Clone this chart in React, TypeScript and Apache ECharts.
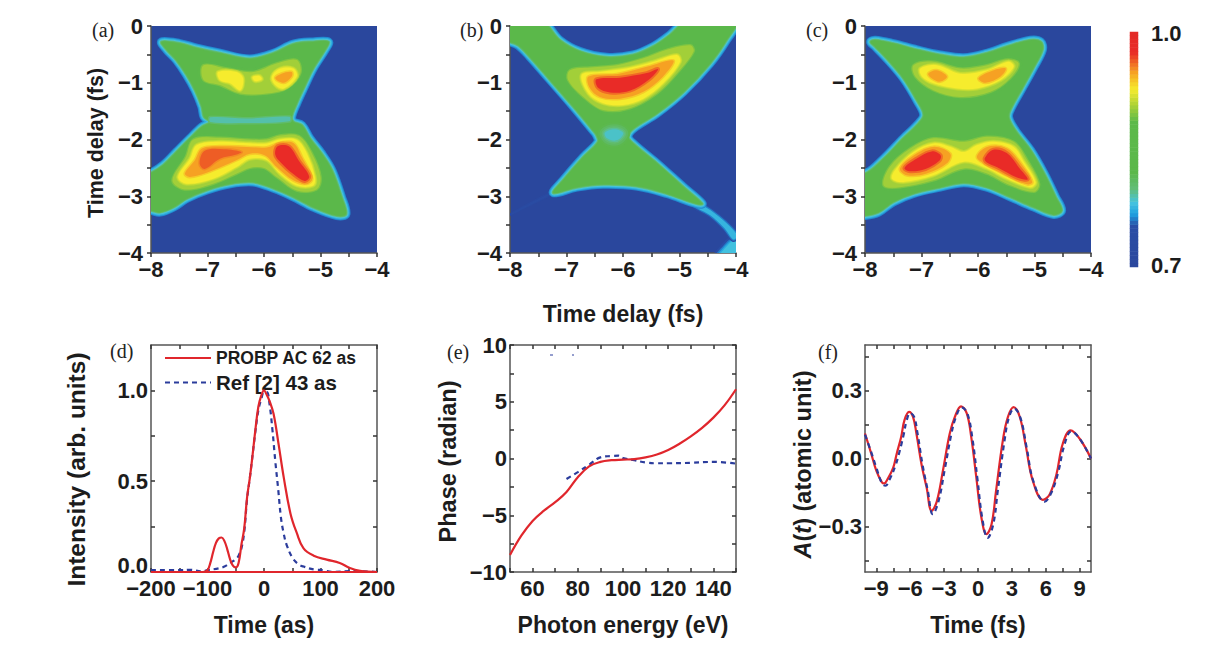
import React, { useEffect, useRef } from "react";
import * as echarts from "echarts";

type P = [number, number];

// ---------- colour scale 0.7..1.0 ----------
const rampPositions = [0, 0.17, 0.22, 0.27, 0.33, 0.4, 0.62, 0.7, 0.76, 0.83, 0.92, 1];
const rampColors = ["#2a479d", "#2a4ea6", "#1f9fe0", "#45c3df", "#62bd78", "#5bb84a", "#5cb94a", "#b5d534", "#f6ec2d", "#f6a623", "#e92b27", "#e32a26"];
const colorbarLevels = [
  0.7, 0.705, 0.71, 0.715, 0.72, 0.725, 0.73, 0.735, 0.74, 0.745, 0.75, 0.755, 0.76, 0.765, 0.77, 0.775, 0.78, 0.785, 0.79, 0.795,
  0.8, 0.805, 0.81, 0.815, 0.82, 0.825, 0.83, 0.835, 0.84, 0.845, 0.85, 0.855, 0.86, 0.865, 0.87, 0.875, 0.88, 0.885, 0.89, 0.895,
  0.9, 0.905, 0.91, 0.915, 0.92, 0.925, 0.93, 0.935, 0.94, 0.945, 0.95, 0.955, 0.96, 0.965, 0.97, 0.975, 0.98, 0.985, 0.99, 0.995, 1.0,
];

// ---------- contour levels of the three maps (value -> fill, soft edge strokes, widest first) ----------
const edgeBand = { fill: 0.825, strokes: [[9, 0.762], [7, 0.772], [5, 0.782], [3, 0.797], [1.5, 0.812]] };
const waistBand = { fill: 0.79, strokes: [[3, 0.805]] };
const softWaistBand = { fill: 0.785, strokes: [[14, 0.818], [10, 0.81], [6, 0.802], [3, 0.794]] };
const tailBand = { fill: 0.775, strokes: [[5, 0.74], [2.5, 0.76]] };
const faintTailBand = { fill: 0.735, strokes: [[2, 0.725]] };
const blobBand = { fill: 0.78, strokes: [[10, 0.745], [6, 0.76], [3, 0.77]] };
const glowBand = { fill: 0.905, strokes: [[7, 0.87], [5, 0.882], [2.5, 0.895]] };
const yellowBand = { fill: 0.928, strokes: [[4, 0.912], [2, 0.92]] };
const orangeBand = { fill: 0.95, strokes: [[3, 0.938]] };
const mixedRedBand = { fill: 0.965, strokes: [[3, 0.955]] };
const redBand = { fill: 0.976, strokes: [[7, 0.95], [4, 0.962]] };

// ---------- panel (a) contours, in fs ----------
const aEdge: P[] = [[-7.81,-0.28],[-7.49,-0.31],[-7.19,-0.39],[-6.78,-0.48],[-6.25,-0.58],[-5.83,-0.48],[-5.48,-0.32],[-5.13,-0.28],[-4.86,-0.28],[-4.92,-0.42],[-5.13,-0.75],[-5.3,-1.1],[-5.42,-1.36],[-5.51,-1.6],[-5.48,-1.69],[-5.33,-1.75],[-5.19,-1.98],[-4.98,-2.25],[-4.8,-2.54],[-4.63,-3.01],[-4.55,-3.31],[-4.71,-3.34],[-5.13,-3.19],[-5.48,-3.01],[-5.83,-2.86],[-6.19,-2.75],[-6.6,-2.78],[-7.01,-2.89],[-7.37,-3.04],[-7.6,-3.19],[-7.84,-3.28],[-8,-3.25],[-8.2,-3.25],[-8.2,-2.65],[-8,-2.59],[-7.78,-2.45],[-7.55,-2.22],[-7.31,-1.98],[-7.1,-1.78],[-6.95,-1.69],[-7.06,-1.6],[-7.1,-1.42],[-7.22,-1.13],[-7.37,-0.86],[-7.55,-0.6],[-7.72,-0.42]];
const aWaist: P[] = [[-6.95,-1.61],[-6.3,-1.63],[-5.55,-1.6],[-5.55,-1.68],[-6.3,-1.71],[-6.95,-1.69]];
const aUpperGlow: P[] = [[-7.07,-0.69],[-6.66,-0.75],[-6.19,-0.81],[-5.78,-0.66],[-5.42,-0.6],[-5.36,-0.84],[-5.6,-1.1],[-5.95,-1.19],[-6.42,-1.19],[-6.78,-1.04],[-7.07,-0.95]];
const aUpperYellowL: P[] = [[-6.81,-0.81],[-6.49,-0.81],[-6.37,-0.92],[-6.42,-1.13],[-6.6,-1.01],[-6.78,-0.95]];
const aUpperYellowM: P[] = [[-6.2,-0.9],[-6.08,-0.88],[-6.04,-0.94],[-6.16,-0.97]];
const aUpperYellowR: P[] = [[-5.86,-0.89],[-5.71,-0.75],[-5.48,-0.75],[-5.42,-0.89],[-5.65,-1.1],[-5.8,-1.04]];
const aUpperOrange: P[] = [[-5.8,-0.92],[-5.69,-0.84],[-5.51,-0.81],[-5.51,-0.89],[-5.65,-1.0]];
const aLowerGlow: P[] = [[-7.25,-2.0],[-6.78,-1.97],[-6.3,-2.0],[-5.95,-2.0],[-5.72,-1.93],[-5.38,-1.94],[-5.15,-2.25],[-5.0,-2.66],[-5.07,-2.88],[-5.42,-2.9],[-5.75,-2.68],[-6.0,-2.5],[-6.25,-2.5],[-6.48,-2.6],[-6.9,-2.78],[-7.4,-2.88],[-7.62,-2.72],[-7.38,-2.3]];
const aLowerYellow: P[] = [[-7.19,-2.1],[-6.78,-2.04],[-6.37,-2.06],[-5.95,-2.07],[-5.72,-2.0],[-5.42,-2.01],[-5.24,-2.25],[-5.1,-2.66],[-5.13,-2.81],[-5.42,-2.81],[-5.72,-2.6],[-5.95,-2.36],[-6.25,-2.34],[-6.48,-2.48],[-6.9,-2.69],[-7.37,-2.78],[-7.52,-2.66],[-7.31,-2.34]];
const aLowerOrange: P[] = [[-7.1,-2.16],[-6.78,-2.12],[-6.31,-2.13],[-5.95,-2.14],[-5.72,-2.06],[-5.48,-2.06],[-5.33,-2.31],[-5.15,-2.69],[-5.24,-2.78],[-5.48,-2.72],[-5.78,-2.48],[-5.98,-2.28],[-6.25,-2.25],[-6.48,-2.36],[-6.9,-2.54],[-7.31,-2.66],[-7.4,-2.6],[-7.22,-2.36]];
const aLowerRedL: P[] = [[-7.05,-2.2],[-6.71,-2.17],[-6.4,-2.22],[-6.5,-2.27],[-6.78,-2.34],[-7.05,-2.52],[-7.14,-2.42]];
const aLowerRedR: P[] = [[-5.76,-2.12],[-5.56,-2.12],[-5.38,-2.38],[-5.2,-2.65],[-5.28,-2.73],[-5.48,-2.61],[-5.7,-2.41],[-5.8,-2.27]];

// ---------- panel (b) contours ----------
const bEdge: P[] = [[-8.2,0.2],[-7.45,0.1],[-7.12,-0.25],[-6.76,-0.45],[-6.29,-0.55],[-5.82,-0.51],[-5.46,-0.36],[-5.17,-0.16],[-4.85,0.1],[-3.98,0.12],[-4.17,-0.25],[-4.46,-0.66],[-4.93,-1.16],[-5.4,-1.54],[-5.82,-1.81],[-5.91,-1.95],[-5.82,-2.07],[-5.4,-2.42],[-4.93,-2.84],[-4.6,-3.13],[-4.7,-3.13],[-5.23,-2.95],[-5.76,-2.82],[-6.35,-2.79],[-6.82,-2.84],[-7.23,-2.94],[-7.06,-2.72],[-6.7,-2.31],[-6.44,-2.04],[-6.47,-1.92],[-6.53,-1.84],[-6.88,-1.42],[-7.29,-0.95],[-7.65,-0.54],[-7.85,-0.34],[-8,-0.28],[-8.2,-0.25]];
const bWaist: P[] = [[-6.32,-1.88],[-6.15,-1.82],[-6.0,-1.88],[-6.05,-1.98],[-6.15,-2.02],[-6.28,-1.98]];
const bUpperGlow: P[] = [[-6.94,-0.78],[-6.58,-0.73],[-6.11,-0.69],[-5.64,-0.57],[-5.23,-0.42],[-4.81,-0.34],[-4.75,-0.45],[-5.05,-0.84],[-5.4,-1.19],[-5.88,-1.45],[-6.35,-1.48],[-6.7,-1.25],[-6.97,-0.95]];
const bUpperYellow: P[] = [[-6.73,-0.86],[-6.41,-0.81],[-5.94,-0.75],[-5.46,-0.63],[-5.05,-0.51],[-4.99,-0.63],[-5.29,-1.01],[-5.64,-1.28],[-6,-1.39],[-6.35,-1.36],[-6.61,-1.19]];
const bUpperOrange: P[] = [[-6.61,-0.89],[-6.11,-0.85],[-5.58,-0.72],[-5.11,-0.61],[-5.29,-0.89],[-5.64,-1.16],[-6.05,-1.28],[-6.41,-1.25],[-6.59,-1.09]];
const bUpperRed: P[] = [[-6.47,-0.94],[-6.05,-0.91],[-5.58,-0.83],[-5.38,-0.76],[-5.55,-0.95],[-5.88,-1.14],[-6.23,-1.17],[-6.44,-1.09]];
const bTail: P[] = [[-4.62,-3.15],[-4.3,-3.36],[-4.08,-3.56],[-3.98,-3.7],[-4.05,-3.76],[-4.2,-3.57],[-4.45,-3.34],[-4.72,-3.18]];
const bLeftTail: P[] = [[-7.25,-2.93],[-7.6,-3.1],[-8.1,-3.38],[-7.6,-3.13],[-7.25,-2.96]];
const bCornerBlob: P[] = [[-3.9,-3.72],[-4.05,-3.78],[-4.18,-3.9],[-4.32,-4.1],[-3.9,-4.1]];

// ---------- panel (c) contours ----------
const cEdge: P[] = [[-7.82,-0.25],[-7.5,-0.31],[-7.08,-0.42],[-6.67,-0.51],[-6.25,-0.56],[-5.84,-0.48],[-5.48,-0.36],[-5.07,-0.25],[-4.89,-0.28],[-4.86,-0.42],[-5.01,-0.72],[-5.22,-1.1],[-5.4,-1.42],[-5.46,-1.6],[-5.34,-1.84],[-5.07,-2.19],[-4.83,-2.6],[-4.63,-3.01],[-4.52,-3.25],[-4.66,-3.32],[-5.01,-3.19],[-5.43,-3.01],[-5.84,-2.84],[-6.25,-2.76],[-6.67,-2.84],[-7.14,-2.95],[-7.5,-3.1],[-7.76,-3.28],[-8,-3.34],[-8.2,-3.34],[-8.2,-2.5],[-8,-2.6],[-7.67,-2.34],[-7.32,-1.98],[-7.08,-1.75],[-6.96,-1.57],[-7.08,-1.31],[-7.32,-0.92],[-7.59,-0.6],[-7.82,-0.36],[-7.9,-0.28]];
const cUpperGlow: P[] = [[-7.14,-0.69],[-6.79,-0.63],[-6.31,-0.75],[-5.84,-0.69],[-5.48,-0.59],[-5.28,-0.66],[-5.43,-0.92],[-5.78,-1.16],[-6.31,-1.25],[-6.79,-1.13],[-7.11,-0.89]];
const cUpperYellow: P[] = [[-7.02,-0.75],[-6.73,-0.69],[-6.31,-0.84],[-5.84,-0.78],[-5.46,-0.63],[-5.37,-0.72],[-5.6,-0.95],[-6.02,-1.1],[-6.37,-1.1],[-6.79,-1.01],[-6.99,-0.89]];
const cUpperOrangeL: P[] = [[-6.88,-0.84],[-6.73,-0.78],[-6.55,-0.89],[-6.67,-0.98],[-6.82,-0.92]];
const cUpperOrangeR: P[] = [[-5.99,-0.92],[-5.72,-0.78],[-5.51,-0.75],[-5.6,-0.89],[-5.87,-1]];
const cLowerGlow: P[] = [[-7.56,-2.48],[-7.2,-2.16],[-6.79,-1.98],[-6.25,-2.04],[-5.84,-1.95],[-5.37,-2.04],[-5.13,-2.36],[-4.92,-2.78],[-5.01,-2.92],[-5.49,-2.78],[-5.84,-2.6],[-6.25,-2.51],[-6.79,-2.72],[-7.38,-2.84],[-7.67,-2.81]];
const cLowerYellow: P[] = [[-7.47,-2.54],[-7.14,-2.22],[-6.79,-2.07],[-6.49,-2.13],[-6.25,-2.22],[-6.02,-2.1],[-5.72,-2.04],[-5.37,-2.13],[-5.19,-2.39],[-4.98,-2.75],[-5.07,-2.84],[-5.49,-2.69],[-5.84,-2.51],[-6.25,-2.39],[-6.79,-2.63],[-7.32,-2.75],[-7.52,-2.69]];
const cLowerOrangeL: P[] = [[-7.38,-2.51],[-7.14,-2.28],[-6.79,-2.13],[-6.49,-2.25],[-6.55,-2.42],[-6.91,-2.6],[-7.26,-2.63]];
const cLowerRedL: P[] = [[-7.3,-2.5],[-7.09,-2.34],[-6.82,-2.21],[-6.66,-2.28],[-6.69,-2.38],[-6.93,-2.52],[-7.2,-2.56]];
const cLowerOrangeR: P[] = [[-6.02,-2.31],[-5.84,-2.13],[-5.49,-2.16],[-5.22,-2.45],[-5.04,-2.75],[-5.13,-2.79],[-5.49,-2.63],[-5.84,-2.45]];
const cLowerRedR: P[] = [[-5.88,-2.33],[-5.73,-2.18],[-5.49,-2.24],[-5.27,-2.5],[-5.12,-2.7],[-5.31,-2.67],[-5.66,-2.49],[-5.85,-2.4]];

const panelAContours = [
  [aEdge, edgeBand], [aWaist, waistBand], [aUpperGlow, glowBand], [aUpperYellowL, yellowBand], [aUpperYellowM, yellowBand], [aUpperYellowR, yellowBand], [aUpperOrange, orangeBand],
  [aLowerGlow, glowBand], [aLowerYellow, yellowBand], [aLowerOrange, orangeBand], [aLowerRedL, mixedRedBand], [aLowerRedR, redBand],
] as any[];
const panelBContours = [
  [bLeftTail, faintTailBand], [bCornerBlob, blobBand], [bTail, tailBand], [bEdge, edgeBand], [bWaist, softWaistBand], [bUpperGlow, glowBand], [bUpperYellow, yellowBand], [bUpperOrange, orangeBand], [bUpperRed, redBand],
] as any[];
const panelCContours = [
  [cEdge, edgeBand], [cUpperGlow, glowBand], [cUpperYellow, yellowBand], [cUpperOrangeL, orangeBand], [cUpperOrangeR, orangeBand],
  [cLowerGlow, glowBand], [cLowerYellow, yellowBand], [cLowerOrangeL, orangeBand], [cLowerRedL, redBand], [cLowerOrangeR, orangeBand], [cLowerRedR, redBand],
] as any[];

// ---------- panel (d) ----------
const dRed: P[] = [[-200,0],[-150,0],[-108,0],[-100,0.01],[-95,0.05],[-90,0.11],[-85,0.16],[-80,0.185],[-75,0.19],[-70,0.17],[-65,0.125],[-60,0.07],[-55,0.035],[-50,0.025],[-45,0.05],[-40,0.15],[-35,0.24],[-30,0.41],[-25,0.52],[-20,0.65],[-15,0.79],[-10,0.91],[-5,0.97],[0,1.0],[5,0.975],[10,0.94],[17,0.87],[26,0.7],[35,0.52],[47,0.32],[58,0.215],[70,0.13],[88,0.09],[111,0.068],[134,0.05],[152,0.022],[170,0.007],[200,0]];
const dBaseline: P[] = [[-200,0],[200,0]];
const dBlue: P[] = [[-200,0.01],[-150,0.01],[-130,0.012],[-110,0.003],[-100,0.01],[-80,0.02],[-70,0.03],[-60,0.05],[-50,0.07],[-45,0.09],[-40,0.13],[-35,0.22],[-30,0.4],[-25,0.52],[-20,0.65],[-15,0.78],[-10,0.89],[-5,0.95],[0,0.99],[5,0.99],[10,0.92],[15,0.78],[20,0.61],[25,0.46],[30,0.3],[35,0.21],[40,0.15],[50,0.08],[60,0.045],[70,0.03],[90,0.013],[105,0.01],[120,0.001],[160,0.005],[200,0]];
// ---------- panel (e) ----------
const eRed: P[] = [[50,-8.5],[55,-6.8],[60,-5.5],[65,-4.6],[70,-3.85],[75,-2.95],[80,-1.65],[85,-0.7],[90,-0.3],[95,-0.15],[100,-0.1],[105,-0.05],[110,0.1],[115,0.35],[120,0.75],[125,1.3],[130,1.95],[135,2.7],[140,3.6],[145,4.7],[150,6.1]];
const eBlue: P[] = [[75,-1.8],[80,-1.2],[85,-0.55],[90,0.1],[95,0.22],[98,0.25],[100,0.05],[105,-0.15],[110,-0.35],[115,-0.42],[120,-0.42],[130,-0.38],[140,-0.3],[150,-0.45]];
// ---------- panel (f) ----------
const fRed: P[] = [[-10,0.11],[-9.5,0.03],[-9,-0.053],[-8.5,-0.105],[-8.3,-0.11],[-8,-0.09],[-7.5,-0.04],[-7.2,0.02],[-6.8,0.095],[-6.5,0.17],[-6.1,0.205],[-5.75,0.183],[-5.45,0.11],[-5,-0.025],[-4.55,-0.127],[-4.1,-0.23],[-3.65,-0.19],[-3.1,-0.053],[-2.5,0.11],[-2.05,0.183],[-1.5,0.23],[-1,0.2],[-0.6,0.095],[-0.15,-0.083],[0.3,-0.26],[0.75,-0.333],[1.2,-0.29],[1.6,-0.142],[2.2,0.08],[2.65,0.183],[3.15,0.226],[3.7,0.183],[4.25,0.05],[4.85,-0.098],[5.75,-0.182],[6.35,-0.157],[6.95,-0.068],[7.5,0.065],[8.2,0.124],[9,0.087],[10,0]];
const fBlue: P[] = [[-10,0.105],[-9.5,0.035],[-9,-0.04],[-8.5,-0.11],[-8.2,-0.12],[-7.8,-0.09],[-7.3,-0.03],[-7,0.02],[-6.6,0.1],[-6.3,0.17],[-6,0.2],[-5.65,0.183],[-5.35,0.11],[-4.9,-0.03],[-4.45,-0.14],[-4,-0.245],[-3.5,-0.19],[-2.95,-0.05],[-2.35,0.11],[-1.95,0.183],[-1.45,0.225],[-0.95,0.2],[-0.5,0.09],[-0.05,-0.09],[0.4,-0.27],[0.85,-0.35],[1.35,-0.29],[1.75,-0.142],[2.35,0.08],[2.75,0.183],[3.2,0.22],[3.75,0.18],[4.3,0.05],[4.9,-0.1],[5.9,-0.19],[6.5,-0.15],[7.1,-0.06],[7.65,0.06],[8.25,0.12],[9,0.087],[10,0]];

// ---------- ticks ----------
const heatLabels = [-8, -7, -6, -5, -4];
const heatTicks = [-8, -7.5, -7, -6.5, -6, -5.5, -5, -4.5, -4];
const delayLabels = [-4, -3, -2, -1, 0];
const delayTicks = [-4, -3.5, -3, -2.5, -2, -1.5, -1, -0.5, 0];
const dXLabels = [-200, -100, 0, 100, 200];
const dXTicks = [-200, -150, -100, -50, 0, 50, 100, 150, 200];
const dYLabels = [0, 0.5, 1];
const dYTicks = [0, 0.25, 0.5, 0.75, 1];
const eXLabels = [60, 80, 100, 120, 140];
const eXTicks = [50, 60, 70, 80, 90, 100, 110, 120, 130, 140, 150];
const eYLabels = [-10, -5, 0, 5, 10];
const eYTicks = [-10, -7.5, -5, -2.5, 0, 2.5, 5, 7.5, 10];
const fXLabels = [-9, -6, -3, 0, 3, 6, 9];
const fXTicks = [-9, -7.5, -6, -4.5, -3, -1.5, 0, 1.5, 3, 4.5, 6, 7.5, 9];
const fYLabels = [-0.3, 0, 0.3];
const fYTicks = [-0.45, -0.3, -0.15, 0, 0.15, 0.3, 0.45];

const SANS = "'Liberation Sans', Arial, sans-serif";
const INK = "#1c1c1c";
const FRAME = "#555555";
const RED = "#e0262c";
const BLUE = "#2b3c9c";
const RED_NAME = "PROBP AC 62 as";
const BLUE_NAME = "Ref [2] 43 as";
const TICK_SIZE = 22;

function hexToRgb(h: string) {
  return [parseInt(h.slice(1, 3), 16), parseInt(h.slice(3, 5), 16), parseInt(h.slice(5, 7), 16)];
}
function colorOf(v: number) {
  const f = Math.max(0, Math.min(1, (v - 0.7) / 0.3));
  let i = 0;
  while (i < rampPositions.length - 2 && f > rampPositions[i + 1]) i++;
  const t = (f - rampPositions[i]) / (rampPositions[i + 1] - rampPositions[i]);
  const a = hexToRgb(rampColors[i]);
  const b = hexToRgb(rampColors[i + 1]);
  return `rgb(${a.map((c, k) => Math.round(c + (b[k] - c) * t)).join(",")})`;
}
const minus = (s: string | number) => String(s).replace("-", "\u2212");

function valueAxis(pos: string, min: number, max: number, labels: number[], ticks: number[], inside: boolean, margin: number, extra: any = {}) {
  return {
    type: "value",
    position: pos,
    min,
    max,
    scale: true,
    splitLine: { show: false },
    axisLine: { show: true, onZero: false, lineStyle: { color: FRAME, width: 1.5 } },
    axisTick: { show: true, inside, length: 4, customValues: ticks, lineStyle: { color: "#333", width: 1.5 } },
    axisLabel: {
      show: true,
      customValues: labels,
      fontFamily: SANS,
      fontWeight: "bold",
      fontSize: TICK_SIZE,
      color: INK,
      margin,
      showMinLabel: true,
      showMaxLabel: true,
      formatter: (v: number) => minus(v),
    },
    ...extra,
  };
}
function mirrorAxis(pos: string, min: number, max: number, ticks: number[]) {
  return {
    type: "value",
    position: pos,
    min,
    max,
    scale: true,
    splitLine: { show: false },
    axisLine: { show: true, onZero: false, lineStyle: { color: FRAME, width: 1.5 } },
    axisTick: { show: true, inside: true, length: 4, customValues: ticks, lineStyle: { color: "#333", width: 1.5 } },
    axisLabel: { show: false },
  };
}
const axisName = (name: string, fontSize: number, nameGap: number, rotate = false, shift = 0, rich?: any) => ({
  name,
  nameLocation: "middle",
  nameGap,
  nameRotate: rotate ? 90 : 0,
  nameTextStyle: { fontFamily: SANS, fontWeight: "bold", fontSize, color: INK, rich, padding: shift ? [0, shift, 0, 0] : 0 },
});

function contourSeries(contours: any[], axisIndex: number) {
  return {
    type: "custom",
    coordinateSystem: "cartesian2d",
    xAxisIndex: axisIndex,
    yAxisIndex: axisIndex,
    clip: true,
    silent: true,
    data: contours.map((_, i) => [-6, -2, i]),
    encode: { x: 0, y: 1 },
    renderItem: (_p: any, api: any) => {
      const [pts, band] = contours[api.value(2)];
      const points = pts.map((p: P) => api.coord(p));
      const children = band.strokes.map(([w, v]: number[]) => ({
        type: "polygon",
        shape: { points, smooth: 0.35 },
        style: { fill: "none", stroke: colorOf(v), lineWidth: w, lineJoin: "round" },
      }));
      children.push({
        type: "polygon",
        shape: { points, smooth: 0.35 },
        style: { fill: colorOf(band.fill), stroke: "none" },
      });
      return { type: "group", children };
    },
  };
}

const lineSeries = (name: string, data: P[], color: string, dashed: boolean, axis: number, z: number) => ({
  type: "line",
  name,
  data,
  xAxisIndex: axis,
  yAxisIndex: axis,
  symbol: "none",
  showSymbol: false,
  smooth: 0.4,
  clip: true,
  z,
  lineStyle: { color, width: 2.2, type: dashed ? [5, 4] : "solid" },
  itemStyle: { color },
});

const panelLetter = (text: string, x: number, y: number) => ({
  type: "text",
  x,
  y,
  style: { text, font: "20px 'Liberation Serif', 'Times New Roman', serif", fill: "#222", textVerticalAlign: "middle" },
});

function buildOption() {
  const T = 26, H = 227, W = 226, L2T = 345;
  const lefts = [151, 510, 865];
  const grids = [
    ...lefts.map((left) => ({ left, top: T, width: W, height: H, show: true, backgroundColor: "#2a479d", borderWidth: 0 })),
    ...lefts.map((left) => ({ left, top: L2T, width: W, height: H })),
    { left: 1130, top: 32, width: 8, height: 235 },
  ];
  const xAxis: any[] = [
    valueAxis("bottom", -8, -4, heatLabels, heatTicks, false, 5, { gridIndex: 0 }),
    valueAxis("bottom", -8, -4, heatLabels, heatTicks, false, 5, { gridIndex: 1, ...axisName("Time delay (fs)", 23, 49) }),
    valueAxis("bottom", -8, -4, heatLabels, heatTicks, false, 5, { gridIndex: 2 }),
    valueAxis("bottom", -200, 200, dXLabels, dXTicks, true, 5, { gridIndex: 3, ...axisName("Time (as)", 23, 41) }),
    valueAxis("bottom", 50, 150, eXLabels, eXTicks, true, 5, { gridIndex: 4, ...axisName("Photon energy (eV)", 23, 41) }),
    valueAxis("bottom", -10, 10, fXLabels, fXTicks, true, 5, { gridIndex: 5, ...axisName("Time (fs)", 23, 41) }),
    { ...mirrorAxis("top", -200, 200, dXTicks), gridIndex: 3 },
    { ...mirrorAxis("top", 50, 150, eXTicks), gridIndex: 4 },
    { ...mirrorAxis("top", -10, 10, fXTicks), gridIndex: 5 },
    { type: "category", gridIndex: 6, data: ["scale"], show: false },
  ];
  const yAxis: any[] = [
    valueAxis("left", -4, 0, delayLabels, delayTicks, false, 8, { gridIndex: 0, ...axisName("Time delay (fs)", 21.5, 44, true, 7) }),
    valueAxis("left", -4, 0, delayLabels, delayTicks, false, 8, { gridIndex: 1 }),
    valueAxis("left", -4, 0, delayLabels, delayTicks, false, 8, { gridIndex: 2 }),
    valueAxis("left", 0, 1.25, dYLabels, dYTicks, true, 3, {
      gridIndex: 3,
      ...axisName("Intensity (arb. units)", 24.5, 62, true, 22),
      axisLabel: {
        customValues: dYLabels, fontFamily: SANS, fontWeight: "bold", fontSize: TICK_SIZE, color: INK, margin: 3,
        formatter: (v: number) => (v === 0 ? "{z|0.0}" : v.toFixed(1)),
        rich: { z: { fontFamily: SANS, fontWeight: "bold", fontSize: TICK_SIZE, color: INK, padding: [0, 0, 14, 0] } },
      },
    }),
    valueAxis("left", -10, 10, eYLabels, eYTicks, true, 3, { gridIndex: 4, ...axisName("Phase (radian)", 23.5, 50, true, 6) }),
    valueAxis("left", -0.5, 0.5, fYLabels, fYTicks, true, 3, {
      gridIndex: 5,
      ...axisName("{it|A}{b|(}{it|t}{b|) (atomic unit)}", 23.5, 43, true, 12, {
        it: { fontFamily: SANS, fontWeight: "bold", fontStyle: "italic", fontSize: 23.5, color: INK },
        b: { fontFamily: SANS, fontWeight: "bold", fontSize: 23.5, color: INK },
      }),
      axisLabel: {
        customValues: fYLabels, fontFamily: SANS, fontWeight: "bold", fontSize: TICK_SIZE, color: INK, margin: 3,
        formatter: (v: number) => minus(v.toFixed(1)),
      },
    }),
    { ...mirrorAxis("right", 0, 1.25, dYTicks), gridIndex: 3 },
    { ...mirrorAxis("right", -10, 10, eYTicks), gridIndex: 4 },
    { ...mirrorAxis("right", -0.5, 0.5, fYTicks), gridIndex: 5 },
    {
      type: "category",
      gridIndex: 6,
      data: colorbarLevels.map((v) => v.toFixed(3)),
      axisLine: { show: false },
      axisTick: { show: false },
      splitLine: { show: false },
      axisLabel: {
        interval: (i: number) => i === 0 || i === colorbarLevels.length - 1,
        formatter: (v: string) => Number(v).toFixed(1),
        fontFamily: SANS,
        fontWeight: "bold",
        fontSize: 22,
        color: INK,
        margin: 13,
      },
      position: "right",
    },
  ];
  const series: any[] = [
    contourSeries(panelAContours, 0),
    contourSeries(panelBContours, 1),
    contourSeries(panelCContours, 2),
    lineSeries(BLUE_NAME, dBlue, BLUE, true, 3, 3),
    lineSeries(RED_NAME, dRed, RED, false, 3, 4),
    lineSeries(RED_NAME, dBaseline, RED, false, 3, 4),
    lineSeries(BLUE_NAME, eBlue, BLUE, true, 4, 3),
    lineSeries(RED_NAME, eRed, RED, false, 4, 4),
    lineSeries(RED_NAME, fRed, RED, false, 5, 3),
    lineSeries(BLUE_NAME, fBlue, BLUE, true, 5, 4),
    {
      type: "heatmap",
      xAxisIndex: 9,
      yAxisIndex: 9,
      silent: true,
      data: colorbarLevels.map((v, i) => [0, i, v]),
      itemStyle: { borderWidth: 0 },
    },
  ];
  return {
    animation: false,
    backgroundColor: "#ffffff",
    grid: grids,
    xAxis,
    yAxis,
    series,
    visualMap: {
      show: false,
      type: "continuous",
      seriesIndex: 10,
      dimension: 2,
      min: 0.7,
      max: 1,
      inRange: { color: colorbarLevels.map(colorOf) },
    },
    legend: {
      left: 164,
      top: 349,
      padding: 0,
      orient: "vertical",
      itemWidth: 46,
      itemHeight: 2,
      itemGap: 5,
      selectedMode: false,
      itemStyle: { opacity: 0 },
      data: [
        { name: RED_NAME, textStyle: { fontFamily: SANS, fontWeight: "bold", fontSize: 17.5, color: INK } },
        { name: BLUE_NAME, textStyle: { fontFamily: SANS, fontWeight: "bold", fontSize: 20.5, color: INK } },
      ],
    },
    graphic: [
      panelLetter("(a)", 92, 30),
      panelLetter("(b)", 460, 30),
      panelLetter("(c)", 806, 30),
      panelLetter("(d)", 110, 351),
      panelLetter("(e)", 447, 352),
      panelLetter("(f)", 818, 352),
      { type: "line", shape: { x1: 550, y1: 355, x2: 553, y2: 355 }, style: { stroke: BLUE, lineWidth: 1 } },
      { type: "line", shape: { x1: 572, y1: 355, x2: 574, y2: 355 }, style: { stroke: BLUE, lineWidth: 1 } },
    ],
  };
}

export default function App() {
  const ref = useRef<HTMLDivElement>(null);
  useEffect(() => {
    const chart = echarts.init(ref.current!, undefined, { renderer: "svg" });
    chart.setOption(buildOption() as any);
    return () => chart.dispose();
  }, []);
  return <div ref={ref} style={{ position: "fixed", left: 0, top: 0, width: 1229, height: 646 }} />;
}
